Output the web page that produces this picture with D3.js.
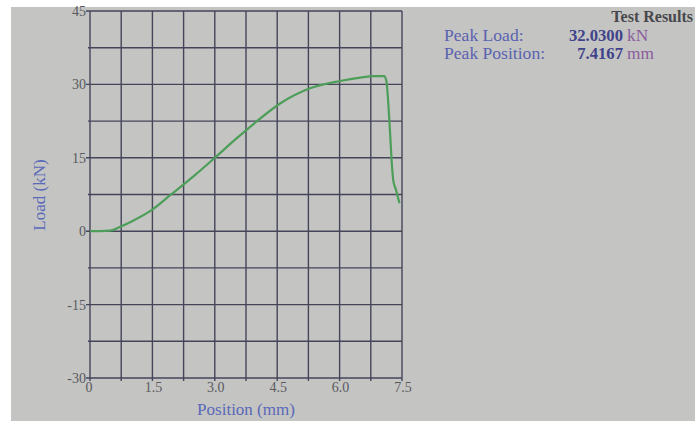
<!DOCTYPE html>
<html>
<head>
<meta charset="utf-8">
<script src="https://cdn.jsdelivr.net/npm/d3@7"></script>
<style>
  html, body { margin: 0; padding: 0; background: #fff; }
  svg { display: block; }
</style>
</head>
<body>
<div id="chart"></div>
<script>
// curve
const position = [0, 0.25, 0.48, 0.7, 1.0, 1.48, 1.92, 2.5, 3.0, 3.5, 3.93, 4.57, 5.29, 6.01, 6.5, 6.81, 7.07, 7.12, 7.21, 7.25, 7.29, 7.35, 7.44];
const load = [0, 0, 0.1, 0.8, 2.0, 4.3, 7.3, 11.3, 15.0, 18.8, 21.9, 26.1, 29.2, 30.7, 31.4, 31.7, 31.7, 30.9, 20.6, 14.5, 10.4, 8.6, 5.7];

const xTicks = [0, 1.5, 3.0, 4.5, 6.0, 7.5];
const yTicks = [45, 30, 15, 0, -15, -30];
const resultLabels = ["Peak Load:", "Peak Position:"];
const resultValues = ["32.0300", "7.4167"];
const resultUnits = ["kN", "mm"];

const W = 695, H = 421;
const plot = { left: 90, right: 402, top: 11, bottom: 378 };

const svg = d3.select("#chart").append("svg")
  .attr("width", W).attr("height", H);

// scanned paper background with the white strip on top/left
svg.append("rect").attr("x", 11).attr("y", 7)
  .attr("width", W - 11).attr("height", H - 7)
  .attr("fill", "#c4c4c3");

const x = d3.scaleLinear().domain([0, 7.5]).range([plot.left, plot.right]);
const y = d3.scaleLinear().domain([-30, 45]).range([plot.bottom, plot.top]);

const gridColor = "#45455a";

// vertical grid every 0.75 mm, with small tick below the axis
const g = svg.append("g");
g.selectAll(".vgrid").data(d3.range(0, 11).map(i => i * 0.75))
  .enter().append("line")
    .attr("class", "vgrid")
    .attr("x1", d => x(d)).attr("x2", d => x(d))
    .attr("y1", plot.top).attr("y2", plot.bottom + 3)
    .attr("stroke", gridColor).attr("stroke-width", 1.4);

// horizontal grid every 7.5 kN
g.selectAll(".hgrid").data(d3.range(0, 11).map(i => -30 + i * 7.5))
  .enter().append("line")
    .attr("class", "hgrid")
    .attr("x1", d => yTicks.includes(d) ? plot.left - 4 : plot.left - 2).attr("x2", plot.right)
    .attr("y1", d => y(d)).attr("y2", d => y(d))
    .attr("stroke", gridColor).attr("stroke-width", 1.4);

const tickFont = "'Liberation Serif', 'Times New Roman', serif";

svg.append("g").selectAll("text").data(yTicks).enter().append("text")
  .attr("x", plot.left - 4)
  .attr("y", d => y(d) + 5)
  .attr("text-anchor", "end")
  .attr("font-family", tickFont).attr("font-size", 14)
  .attr("fill", "#5a5a5e")
  .text(d => d);

svg.append("g").selectAll("text").data(xTicks).enter().append("text")
  .attr("x", d => x(d) + (d === 0 ? -1 : 1))
  .attr("y", plot.bottom + 14)
  .attr("text-anchor", "middle")
  .attr("font-family", tickFont).attr("font-size", 14)
  .attr("fill", "#5a5a5e")
  .text(d => d === 0 ? "0" : d.toFixed(1));

// axis titles
svg.append("text")
  .attr("x", (plot.left + plot.right) / 2)
  .attr("y", 415)
  .attr("text-anchor", "middle")
  .attr("font-family", tickFont).attr("font-size", 17)
  .attr("fill", "#5a69b8")
  .text("Position (mm)");

svg.append("text")
  .attr("transform", "translate(45,195) rotate(-90)")
  .attr("text-anchor", "middle")
  .attr("font-family", tickFont).attr("font-size", 17)
  .attr("fill", "#5a69b8")
  .text("Load (kN)");

// load curve
const pts = position.map((p, i) => [p, load[i]]);
svg.append("path")
  .datum(pts)
  .attr("fill", "none")
  .attr("stroke", "#4c9e58")
  .attr("stroke-width", 2.2)
  .attr("stroke-linejoin", "round")
  .attr("d", d3.line().x(d => x(d[0])).y(d => y(d[1])).curve(d3.curveMonotoneX));

// results block
svg.append("text")
  .attr("x", 693).attr("y", 22)
  .attr("text-anchor", "end")
  .attr("font-family", tickFont).attr("font-size", 16).attr("font-weight", "bold")
  .attr("fill", "#48484c")
  .text("Test Results");

const res = svg.append("g").selectAll("g").data(resultLabels).enter().append("g")
  .attr("transform", (d, i) => `translate(0,${41 + i * 17.5})`);

// the scan is slightly stretched sideways
res.append("text")
  .attr("transform", "translate(444,0) scale(1.1,1)")
  .attr("font-family", tickFont).attr("font-size", 16)
  .attr("fill", "#5a62b0")
  .text(d => d);

res.append("text")
  .attr("transform", "translate(623,0) scale(1.04,1)")
  .attr("text-anchor", "end")
  .attr("font-family", tickFont).attr("font-size", 16).attr("font-weight", "bold")
  .attr("fill", "#40428a")
  .text((d, i) => resultValues[i]);

res.append("text")
  .attr("transform", "translate(627,0) scale(1.08,1)")
  .attr("font-family", tickFont).attr("font-size", 16)
  .attr("fill", "#8a5c9c")
  .text((d, i) => resultUnits[i]);
</script>
</body>
</html>
